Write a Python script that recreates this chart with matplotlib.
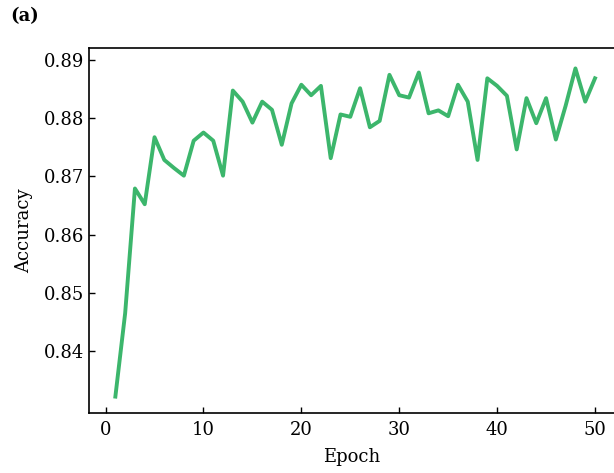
import matplotlib
matplotlib.use("Agg")
import matplotlib.pyplot as plt
import numpy as np

# accuracy per epoch
epochs = list(range(1, 51))
accuracy = [0.8322, 0.8465, 0.8679, 0.8652, 0.8767, 0.8728, 0.8714, 0.8701, 0.8761, 0.8775,
            0.8761, 0.8701, 0.8847, 0.8828, 0.8792, 0.8828, 0.8814, 0.8754, 0.8825, 0.8857,
            0.8839, 0.8855, 0.8731, 0.8806, 0.8802, 0.8851, 0.8784, 0.8795, 0.8874, 0.8839,
            0.8835, 0.8878, 0.8808, 0.8813, 0.8803, 0.8857, 0.8828, 0.8728, 0.8868, 0.8855,
            0.8838, 0.8746, 0.8834, 0.8791, 0.8834, 0.8763, 0.8821, 0.8885, 0.8828, 0.8868]

x_ticks = [0, 10, 20, 30, 40, 50]
y_ticks = [0.84, 0.85, 0.86, 0.87, 0.88, 0.89]

plt.rcParams['font.family'] = ['DejaVu Serif']

fig = plt.figure(figsize=(6.14, 4.73), dpi=100)
ax = fig.add_axes([0.145, 0.127, 0.855, 0.7715])

ax.plot(epochs, accuracy, color='#3cb66c', linewidth=2.8)

ax.set_xlim(-1.69, 51.94)
ax.set_ylim(0.8294, 0.8920)
ax.set_xticks(x_ticks)
ax.set_yticks(y_ticks)
ax.set_yticklabels(["%.2f" % v for v in y_ticks])
ax.tick_params(direction='in', length=4.5, width=1, labelsize=13, top=False, right=False)
ax.tick_params(axis='x', pad=6)

ax.spines['right'].set_visible(False)
for s in ['left', 'bottom', 'top']:
    ax.spines[s].set_linewidth(1.2)

ax.set_xlabel("Epoch", fontsize=13, labelpad=6)
ax.set_ylabel("Accuracy", fontsize=13, labelpad=8)

fig.text(0.016, 0.955, "(a)", fontsize=13, fontweight='bold')

fig.savefig("out.png", dpi=100)
